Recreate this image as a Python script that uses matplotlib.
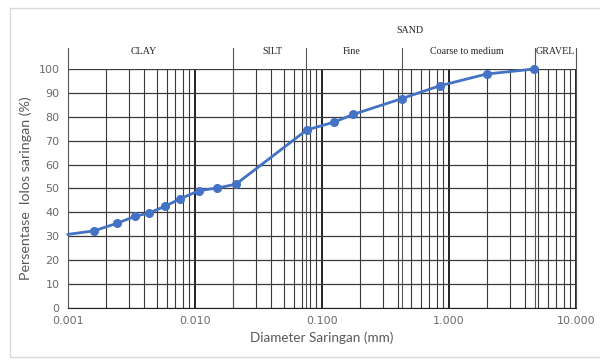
import numpy as np
import matplotlib.pyplot as plt
from matplotlib.ticker import FixedLocator, FuncFormatter, LogLocator
import matplotlib.transforms as mtransforms

# data
diameter = [0.001, 0.00161, 0.00242, 0.00339, 0.00432, 0.00577, 0.00766, 0.01075,
            0.0150, 0.0210, 0.0759, 0.125, 0.176, 0.424, 0.849, 1.98, 4.70]
lolos = [30.8, 32.3, 35.4, 38.4, 39.7, 42.5, 45.7, 49.1,
         50.2, 51.8, 74.5, 77.8, 81.0, 87.6, 93.0, 97.9, 100.0]

# soil zone boundaries (mm) and labels
bounds = [0.001, 0.02, 0.075, 0.425, 4.75, 10.0]
zone_names = ['CLAY', 'SILT', 'Fine', 'Coarse to medium', 'GRAVEL']
zone_centers = [0.00397, 0.0404, 0.172, 1.39, 6.84]
sand_center = 0.49

x_ticks = [0.001, 0.01, 0.1, 1, 10]
y_ticks = list(range(0, 101, 10))

fig = plt.figure(figsize=(6, 3.62), dpi=100)
ax = fig.add_axes([0.1133, 0.1492, 0.8467, 0.6602])

ax.set_xscale('log')
ax.set_xlim(0.001, 10)
ax.set_ylim(0, 100)

# grid
ax.xaxis.set_major_locator(FixedLocator(x_ticks))
ax.xaxis.set_minor_locator(LogLocator(base=10, subs=np.arange(2, 10)))
ax.xaxis.set_minor_formatter(FuncFormatter(lambda v, p: ''))
ax.xaxis.set_major_formatter(FuncFormatter(lambda v, p: f'{v:.3f}'))
ax.yaxis.set_major_locator(FixedLocator(y_ticks))
ax.grid(which='major', axis='x', color='#111111', lw=1.3)
ax.grid(which='minor', axis='x', color='#3a3a3a', lw=0.8)
ax.grid(which='major', axis='y', color='#3a3a3a', lw=0.9)
ax.tick_params(which='both', length=0, labelsize=8, labelcolor='#6b6b6b', pad=6)

for s in ['top', 'right', 'left']:
    ax.spines[s].set_visible(False)
ax.spines['bottom'].set_color('#222222')

# zone boundary lines (inside plot and header)
trans = mtransforms.blended_transform_factory(ax.transData, ax.transAxes)
for b in bounds:
    ax.plot([b, b], [0, 1.089], transform=trans, color='#555555', lw=0.8, clip_on=False)

for name, c in zip(zone_names, zone_centers):
    ax.text(c, 1.075, name, transform=trans, ha='center', va='center',
            fontsize=7.2, family='Liberation Serif', color='#222222')
ax.text(sand_center, 1.159, 'SAND', transform=trans, ha='center', va='center',
        fontsize=7.2, family='Liberation Serif', color='#222222')

# curve
ax.plot(diameter, lolos, color='#4472C4', lw=2, marker='o', ms=5.5,
        markevery=list(range(1, len(diameter))), zorder=5, clip_on=False)

ax.set_xlabel('Diameter Saringan (mm)', fontsize=9.7, color='#595959', family='Lato', labelpad=4)
ax.set_ylabel('Persentase  lolos saringan (%)', fontsize=10.3, color='#595959', family='Lato', labelpad=5)

# chart border
fig.patches.append(plt.Rectangle((0.017, 0.014), 0.99, 0.965, transform=fig.transFigure,
                                 fill=False, edgecolor='#d9d9d9', lw=1))

fig.savefig('out.png', dpi=100)
